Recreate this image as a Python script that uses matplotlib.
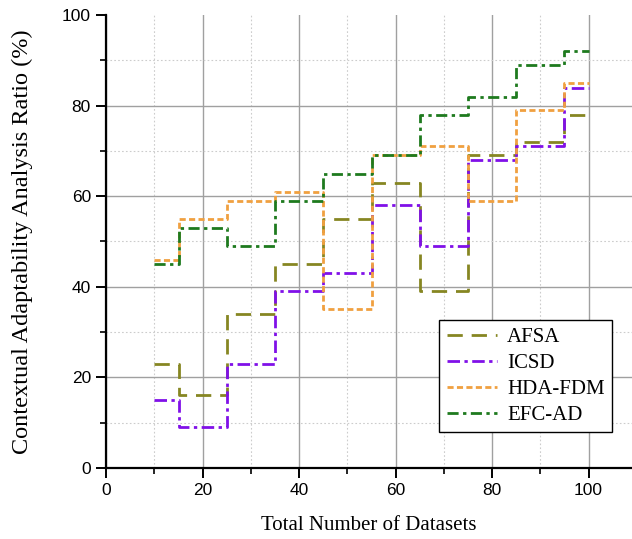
import matplotlib
matplotlib.use("Agg")
import matplotlib.pyplot as plt
from matplotlib.ticker import MultipleLocator

# Data
datasets = [10, 20, 30, 40, 50, 60, 70, 80, 90, 100]
afsa = [23, 16, 34, 45, 55, 63, 39, 69, 72, 78]
icsd = [15, 9, 23, 39, 43, 58, 49, 68, 71, 84]
hda_fdm = [46, 55, 59, 61, 35, 69, 71, 59, 79, 85]
efc_ad = [45, 53, 49, 59, 65, 69, 78, 82, 89, 92]

series = [
    ("AFSA", afsa, "#868622", (5.5, 3.2)),
    ("ICSD", icsd, "#8010e8", (4.5, 1.6, 1.2, 1.6)),
    ("HDA-FDM", hda_fdm, "#f0a040", (2.2, 1.2)),
    ("EFC-AD", efc_ad, "#1e7a1e", (4, 1.6, 1.2, 1.6)),
]

serif = ["Liberation Serif", "DejaVu Serif"]
sans = ["Liberation Sans", "DejaVu Sans"]

fig = plt.figure(figsize=(6.32, 5.39), dpi=100)
ax = fig.add_axes([0.168, 0.132, 0.832, 0.840])

for name, vals, col, dash in series:
    ax.plot(datasets, vals, drawstyle="steps-mid", color=col, lw=2.0,
            dashes=dash, label=name)

ax.set_xlim(0, 109)
ax.set_ylim(0, 100)
ax.xaxis.set_major_locator(MultipleLocator(20))
ax.xaxis.set_minor_locator(MultipleLocator(10))
ax.yaxis.set_major_locator(MultipleLocator(20))
ax.yaxis.set_minor_locator(MultipleLocator(10))

ax.grid(which="major", color="#a0a0a0", lw=1.0, ls="-")
ax.grid(which="minor", color="#cccccc", lw=0.8, ls=(0, (1.5, 2)))
ax.set_axisbelow(True)

for s in ("top", "right"):
    ax.spines[s].set_visible(False)
for s in ("left", "bottom"):
    ax.spines[s].set_linewidth(1.6)

ax.tick_params(which="major", direction="out", length=7, width=1.4,
               labelsize=12.5, pad=4)
ax.tick_params(which="minor", direction="out", length=4.5, width=1.2)
for lab in ax.get_xticklabels() + ax.get_yticklabels():
    lab.set_family(sans)

# drop the gridline that sits on the top edge
fig.canvas.draw()
for t in ax.yaxis.get_major_ticks():
    if abs(t.get_loc() - 100) < 1e-6:
        t.gridline.set_visible(False)

ax.set_xlabel("Total Number of Datasets", family=serif, fontsize=15,
              labelpad=13)
ax.set_ylabel("Contextual Adaptability Analysis Ratio (%)", family=serif,
              fontsize=17.5, labelpad=21)

leg = ax.legend(loc="lower right", bbox_to_anchor=(0.962, 0.079),
                borderaxespad=0,
                prop={"family": serif, "size": 15}, frameon=True,
                fancybox=False, edgecolor="black", framealpha=1,
                handlelength=2.4, borderpad=0.35, labelspacing=0.3,
                handletextpad=0.5)
leg.get_frame().set_linewidth(1.0)

fig.savefig("out.png", dpi=100)
